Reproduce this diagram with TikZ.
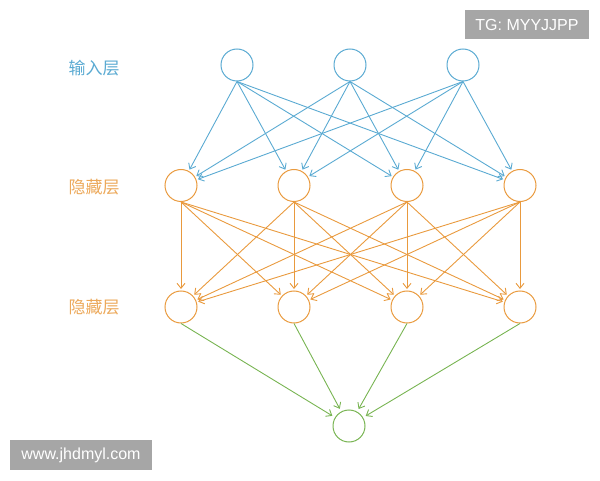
\documentclass[tikz,border=0pt]{standalone}
\usepackage{fontspec}
\setmainfont{Liberation Sans}
\newfontfamily\cjk{Noto Sans CJK SC}
\usepackage{tikz}
\usetikzlibrary{positioning, arrows.meta}
\definecolor{inblue}{HTML}{5AAAD2}
\definecolor{hidorange}{HTML}{E99A3E}
\definecolor{outgreen}{HTML}{78B452}
\definecolor{markgray}{HTML}{A6A6A6}
\tikzset{main node/.style={circle,draw,line width=1pt,minimum size=32pt,inner sep=0pt},
  layer label/.style={font=\cjk\fontsize{17pt}{17pt}\selectfont},
  mark box/.style={fill=markgray,text=white,inner sep=0pt,font=\fontsize{16pt}{16pt}\selectfont},
  link/.style={every edge/.append style={line width=0.9pt,-{Straight Barb[length=5pt,width=8pt]},shorten >=#1}},
  link/.default=1.5pt}

\begin{document}
\begin{tikzpicture}[x=1pt,y=1pt]
            \useasboundingbox (0,0) rectangle (600,480);

            % layers
            \node[main node, draw=inblue] (I1) at (237,415) {};
            \node[main node, draw=inblue] (I2) [right = 80pt of I1] {};
            \node[main node, draw=inblue] (I3) [right = 80pt of I2] {};

            \node[main node, draw=hidorange] (H1) at (181,294.5) {};
            \node[main node, draw=hidorange] (H2) [right = 80pt of H1] {};
            \node[main node, draw=hidorange] (H3) [right = 80pt of H2] {};
            \node[main node, draw=hidorange] (H4) [right = 80pt of H3] {};

            \node[main node, draw=hidorange] (K1) [below = 88.5pt of H1] {};
            \node[main node, draw=hidorange] (K2) [below = 88.5pt of H2] {};
            \node[main node, draw=hidorange] (K3) [below = 88.5pt of H3] {};
            \node[main node, draw=hidorange] (K4) [below = 88.5pt of H4] {};

            \node[main node, draw=outgreen] (O) at (349,54) {};

            % labels
            \node[layer label, text=inblue] (LI) at (94,412) {输入层};
            \node[layer label, text=hidorange!85] (LH) at (94,293) {隐藏层};
            \node[layer label, text=hidorange!85] (LK) at (94,173) {隐藏层};

            % input -> hidden
            \path[link, inblue]
            (I1.south) edge (H1)
            (I1.south) edge (H2)
            (I1.south) edge (H3)
            (I1.south) edge (H4)
            (I2.south) edge (H1)
            (I2.south) edge (H2)
            (I2.south) edge (H3)
            (I2.south) edge (H4)
            (I3.south) edge (H1)
            (I3.south) edge (H2)
            (I3.south) edge (H3)
            (I3.south) edge (H4);

            % hidden -> hidden
            \path[link, hidorange]
            (H1.south) edge (K1.north)
            (H1.south) edge (K2)
            (H1.south) edge (K3)
            (H1.south) edge (K4)
            (H2.south) edge (K1)
            (H2.south) edge (K2.north)
            (H2.south) edge (K3)
            (H2.south) edge (K4)
            (H3.south) edge (K1)
            (H3.south) edge (K2)
            (H3.south) edge (K3.north)
            (H3.south) edge (K4)
            (H4.south) edge (K1)
            (H4.south) edge (K2)
            (H4.south) edge (K3)
            (H4.south) edge (K4.north);

            % hidden -> output
            \path[link=3pt, outgreen]
            (K1.south) edge (O)
            (K2.south) edge (O)
            (K3.south) edge (O)
            (K4.south) edge (O);

            % marks
            \node[mark box, minimum width=124pt, minimum height=29pt] (TG) at (527,455.5) {TG: MYYJJPP};
            \node[mark box, minimum width=142pt, minimum height=30pt] (WW) at (81,25) {www.jhdmyl.com};
        \end{tikzpicture}
\end{document}
